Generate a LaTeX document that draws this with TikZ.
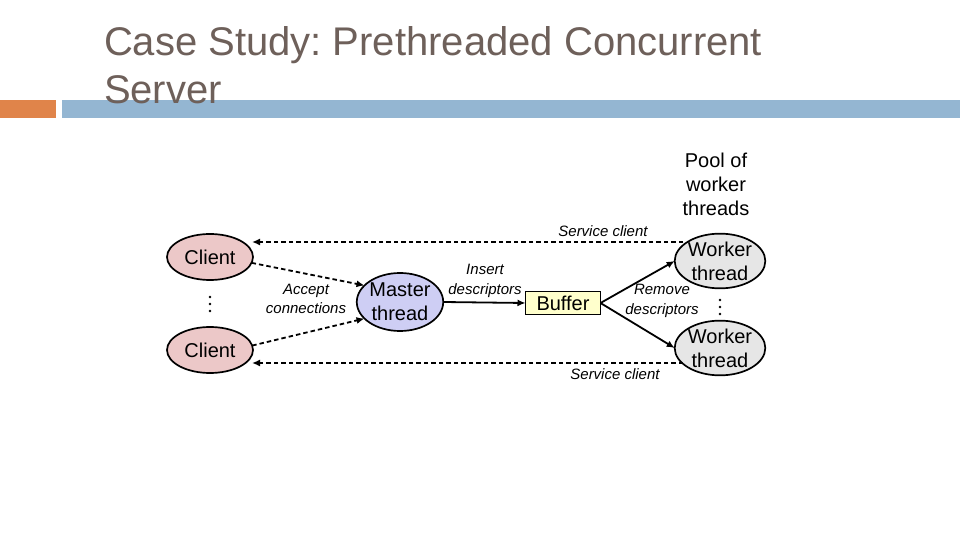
\documentclass[tikz,border=0pt]{standalone}
\usepackage{fontspec}
\setmainfont{Liberation Sans}
\frenchspacing
\usetikzlibrary{shapes.geometric,arrows.meta}
\definecolor{titlecol}{RGB}{110,96,90}
\definecolor{barorange}{RGB}{224,132,74}
\definecolor{barblue}{RGB}{148,182,210}
\definecolor{clientfill}{RGB}{236,200,200}
\definecolor{masterfill}{RGB}{206,206,244}
\definecolor{bufferfill}{RGB}{255,255,204}
\definecolor{workerfill}{RGB}{230,230,230}
\tikzset{
  every node/.style={inner sep=0pt, outer sep=0pt},
  oval/.style={ellipse, draw=black, line width=1.7bp, align=center,
     font=\fontsize{20bp}{24bp}\selectfont},
  clientnode/.style={oval, fill=clientfill, minimum width=86bp, minimum height=46bp},
  masternode/.style={oval, fill=masterfill, minimum width=82bp, minimum height=58bp},
  workernode/.style={oval, fill=workerfill, minimum width=84bp, minimum height=48bp},
  buffernode/.style={rectangle, draw=black, line width=1.7bp, fill=bufferfill,
     minimum width=75bp, minimum height=23bp, font=\fontsize{20bp}{24bp}\selectfont},
  lbl/.style={align=center, font=\fontsize{15bp}{19.5bp}\selectfont\itshape},
  plainlbl/.style={align=center, font=\fontsize{20bp}{24bp}\selectfont},
  dotmark/.style={fill=black, circle, minimum size=2.6bp},
  dasharrow/.style={line width=1.8bp, dash pattern=on 4.5bp off 3bp,
     -{Latex[length=8bp,width=7bp]}},
  solidarrow/.style={line width=1.8bp, -{Latex[length=8bp,width=7bp]}},
}
\begin{document}
\begin{tikzpicture}[x=1bp,y=-1bp]
\useasboundingbox (0,0) rectangle (960,540);
\fill[white] (0,0) rectangle (960,540);
% title bars
\fill[barorange] (0,100) rectangle (56,118);
\fill[barblue] (62,100) rectangle (960,118);
% title
\node[anchor=base west, text=titlecol, font=\fontsize{40bp}{48bp}\selectfont] (title1) at (104,56) {Case Study: Prethreaded Concurrent};
\node[anchor=base west, text=titlecol, font=\fontsize{40bp}{48bp}\selectfont] (title2) at (104,104) {Server};

% nodes
\node[clientnode] (c1) at (210,257) {Client};
\node[clientnode] (c2) at (210,350) {Client};
\node[masternode] (m) at (400,302) {Master\\thread};
\node[buffernode] (buf) at (563,303) {Buffer};
\node[workernode] (w1) at (720,261) {Worker\\thread};
\node[workernode] (w2) at (720,348) {Worker\\thread};

% vertical dots
\node[dotmark] (cd1) at (210,297) {};
\node[dotmark] (cd2) at (210,304) {};
\node[dotmark] (cd3) at (210,311) {};
\node[dotmark] (wd1) at (720,300) {};
\node[dotmark] (wd2) at (720,307) {};
\node[dotmark] (wd3) at (720,314) {};

% labels
\node[plainlbl] (pool) at (716,184) {Pool of\\worker\\threads};
\node[lbl] (svc1) at (603,231) {Service client};
\node[lbl] (svc2) at (615,374) {Service client};
\node[lbl] (acc) at (306,299) {Accept\\connections};
\node[lbl] (ins) at (485,281) {Insert\\descriptors};
\node[lbl] (rem) at (662,301) {Remove\\descriptors};

% service client lines
\coordinate (s1a) at (683,242);
\coordinate (s1b) at (252,242);
\coordinate (s2a) at (683,363);
\coordinate (s2b) at (252,363);
\draw[dasharrow] (s1a) -- (s1b);
\draw[dasharrow] (s2a) -- (s2b);

% accept connections
\draw[dasharrow] (c1.-8) -- (m.155);
\draw[dasharrow] (c2.6) -- (m.205);

% insert / remove
\draw[solidarrow] (m.east) -- (buf.west);
\draw[solidarrow] (buf.east) -- (w1.west);
\draw[solidarrow] (buf.east) -- (w2.west);
\end{tikzpicture}
\end{document}
